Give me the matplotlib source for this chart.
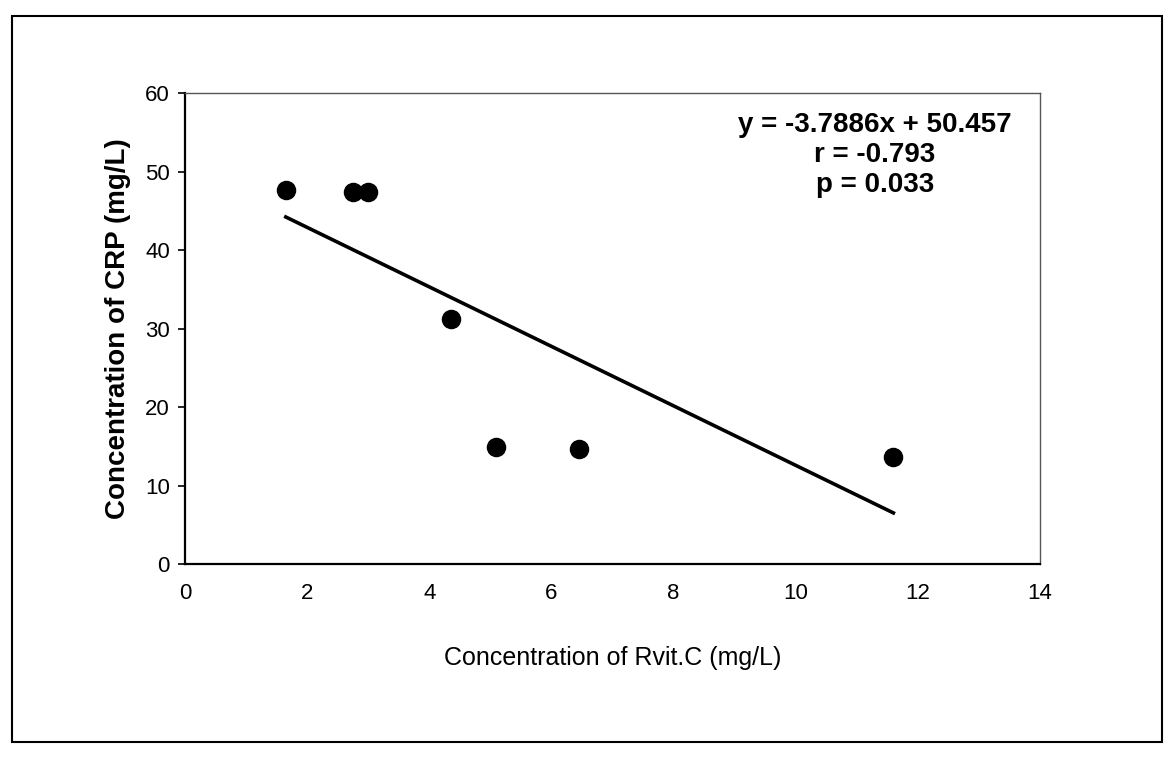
import matplotlib
matplotlib.use("Agg")
import matplotlib.pyplot as plt
from matplotlib.patches import Rectangle
import numpy as np

plt.rcParams['font.family'] = ['Liberation Sans', 'DejaVu Sans']

# values
rvit_c = [1.65, 2.75, 3.0, 4.35, 5.1, 6.45, 11.6]
crp = [47.6, 47.4, 47.4, 31.2, 14.9, 14.6, 13.6]
slope, intercept = -3.7886, 50.457
x_ticks = [0, 2, 4, 6, 8, 10, 12, 14]
y_ticks = [0, 10, 20, 30, 40, 50, 60]

fig = plt.figure(figsize=(11.69, 7.63), dpi=100)
fig.patches.append(Rectangle((0.0103, 0.027), 0.984, 0.952, transform=fig.transFigure,
                             fill=False, edgecolor='black', linewidth=1.5))

ax = fig.add_axes([0.1583, 0.2608, 0.7313, 0.6173])
ax.scatter(rvit_c, crp, s=170, color='black', zorder=3)

xs = np.array([min(rvit_c), max(rvit_c)])
ax.plot(xs, slope * xs + intercept, color='black', linewidth=2.6)

ax.set_xlim(0, 14)
ax.set_ylim(0, 60)
ax.set_xticks(x_ticks)
ax.set_yticks(y_ticks)
ax.tick_params(axis='x', length=0, pad=14, labelsize=16)
ax.tick_params(axis='y', length=5, width=1.2, pad=6, labelsize=16)

for side in ['top', 'right']:
    ax.spines[side].set_color('#555555')
    ax.spines[side].set_linewidth(1.0)
for side in ['left', 'bottom']:
    ax.spines[side].set_linewidth(1.6)

ax.set_xlabel("Concentration of Rvit.C (mg/L)", fontsize=18, labelpad=30)
ax.set_ylabel("Concentration of CRP (mg/L)", fontsize=20, fontweight='bold', labelpad=10)

ax.text(0.807, 0.96, "y = -3.7886x + 50.457\nr = -0.793\np = 0.033",
        transform=ax.transAxes, ha='center', va='top', multialignment='center',
        fontsize=20, fontweight='bold', linespacing=1.2)

fig.savefig("out.png", dpi=100)
